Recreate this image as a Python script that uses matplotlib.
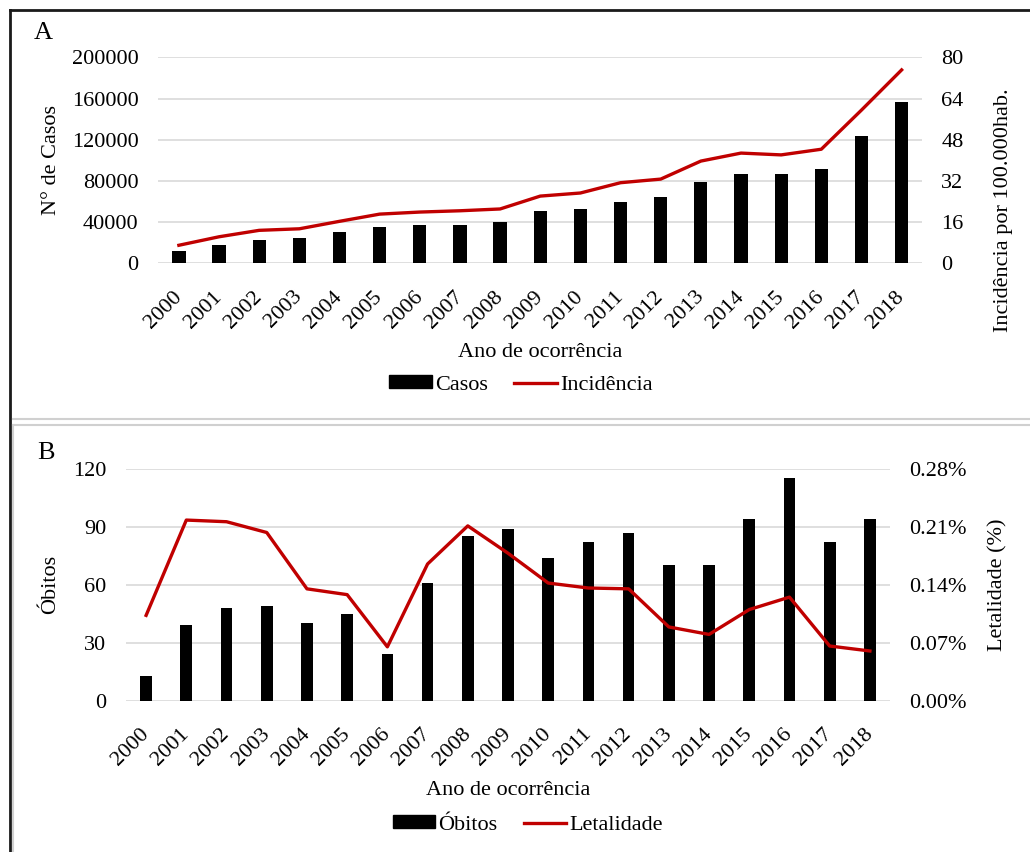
import numpy as np
import matplotlib
matplotlib.use("Agg")
import matplotlib.pyplot as plt
from matplotlib.lines import Line2D
from matplotlib.patches import Patch
from matplotlib.ticker import FuncFormatter

plt.rcParams["font.family"] = ["Liberation Serif", "DejaVu Serif"]

years = [str(y) for y in range(2000, 2019)]

# panel A
casos = [12000, 18000, 22500, 24500, 30000, 35000, 37000, 37000, 40000, 51000,
         53000, 60000, 64000, 78500, 86500, 86500, 91500, 124000, 156500]
incidencia = [7.0, 10.3, 12.8, 13.4, 16.3, 19.1, 19.9, 20.4, 21.1, 26.1,
              27.3, 31.3, 32.7, 39.7, 42.8, 42.1, 44.3, 59.5, 75.1]

# panel B
obitos = [13, 39, 48, 49, 40, 45, 24, 61, 85, 89,
          74, 82, 87, 70, 70, 94, 115, 82, 94]
letalidade = [0.103, 0.218, 0.216, 0.203, 0.135, 0.128, 0.065, 0.165, 0.211, 0.178,
              0.142, 0.136, 0.135, 0.089, 0.080, 0.110, 0.125, 0.066, 0.060]

W, H = 1030, 852
RED = "#C00000"
GRID = "#d9d9d9"
FS = 16


def px_axes(fig, x0, y0, x1, y1):
    return fig.add_axes([x0 / W, 1 - y1 / H, (x1 - x0) / W, (y1 - y0) / H])


def style(ax, ax2, xlim, ylim, ylim2, yticks, yticks2):
    x = np.arange(len(years))
    ax.set_xlim(*xlim); ax.set_ylim(*ylim); ax2.set_ylim(*ylim2)
    ax.set_yticks(yticks); ax2.set_yticks(yticks2)
    ax.set_xticks(x)
    ax.set_xticklabels(years, rotation=45, ha="right", va="center",
                       rotation_mode="anchor", fontsize=FS)
    for a in (ax, ax2):
        for s in a.spines.values():
            s.set_visible(False)
        a.tick_params(length=0, labelsize=FS, pad=14)
    ax.tick_params(axis="x", pad=22)
    ax.grid(axis="y", color=GRID, lw=1.2)
    ax.set_axisbelow(True)


def legend(labels, y, x):
    fig.legend([Patch(color="black"), Line2D([], [], color=RED, lw=2.4)],
               labels, loc="center", bbox_to_anchor=(x / W, 1 - y / H),
               ncol=2, frameon=False, fontsize=FS, handlelength=1.9, handleheight=0.5,
               handletextpad=0.15, columnspacing=1.2)


fig = plt.figure(figsize=(W / 100, H / 100), dpi=100)
x = np.arange(len(years))

# ---- A
axA = px_axes(fig, 158, 57.3, 921.7, 263.3)
axA2 = axA.twinx()
axA.bar(x, casos, width=0.33, color="black", zorder=2)
axA2.plot(x, incidencia, color=RED, lw=2.4, zorder=3)
style(axA, axA2, (-0.52, 18.5), (0, 200000), (0, 80),
      np.arange(0, 200001, 40000), np.arange(0, 81, 16))
axA.set_ylabel("N° de Casos", fontsize=FS)
axA.yaxis.set_label_coords(-97 / 764, 0.5)
axA2.set_ylabel("Incidência por 100.000hab.", fontsize=FS)
axA2.yaxis.set_label_coords(1 + 72 / 764, 0.26)
axA.set_xlabel("Ano de ocorrência", fontsize=FS, labelpad=8)
fig.text(34 / W, 1 - 33 / H, "A", fontsize=19, va="center")
legend(["Casos", "Incidência"], 385, 521)

# ---- B
axB = px_axes(fig, 126, 468.7, 890, 700.7)
axB2 = axB.twinx()
axB.bar(x, obitos, width=0.29, color="black", zorder=2)
axB2.plot(x, letalidade, color=RED, lw=2.4, zorder=3)
style(axB, axB2, (-0.5, 18.5), (0, 120), (0, 0.28),
      np.arange(0, 121, 30), [0, 0.07, 0.14, 0.21, 0.28])
axB2.yaxis.set_major_formatter(FuncFormatter(lambda v, p: f"{v:.2f}%"))
axB.set_ylabel("Óbitos", fontsize=FS)
axB.yaxis.set_label_coords(-66 / 764, 0.5)
axB2.set_ylabel("Letalidade (%)", fontsize=FS)
axB2.yaxis.set_label_coords(1 + 98 / 764, 0.5)
axB.set_xlabel("Ano de ocorrência", fontsize=FS, labelpad=8)
fig.text(37 / W, 1 - 453 / H, "B", fontsize=19, va="center")
legend(["Óbitos", "Letalidade"], 825, 528)

# panel frames
def fline(xs, ys, color, lw):
    fig.add_artist(Line2D([v / W for v in xs], [1 - v / H for v in ys],
                          color=color, lw=lw, transform=fig.transFigure))

fline([9.5, W], [10, 10], "#1a1a1a", 2.0)
fline([9.5, 9.5], [10, H], "#1a1a1a", 2.0)
fline([13, W], [419, 419], "#d0d0d0", 1.5)
fline([13, W], [425, 425], "#d0d0d0", 1.5)
fline([13, 13], [425, H], "#d0d0d0", 1.5)

fig.savefig("out.png", dpi=100)
